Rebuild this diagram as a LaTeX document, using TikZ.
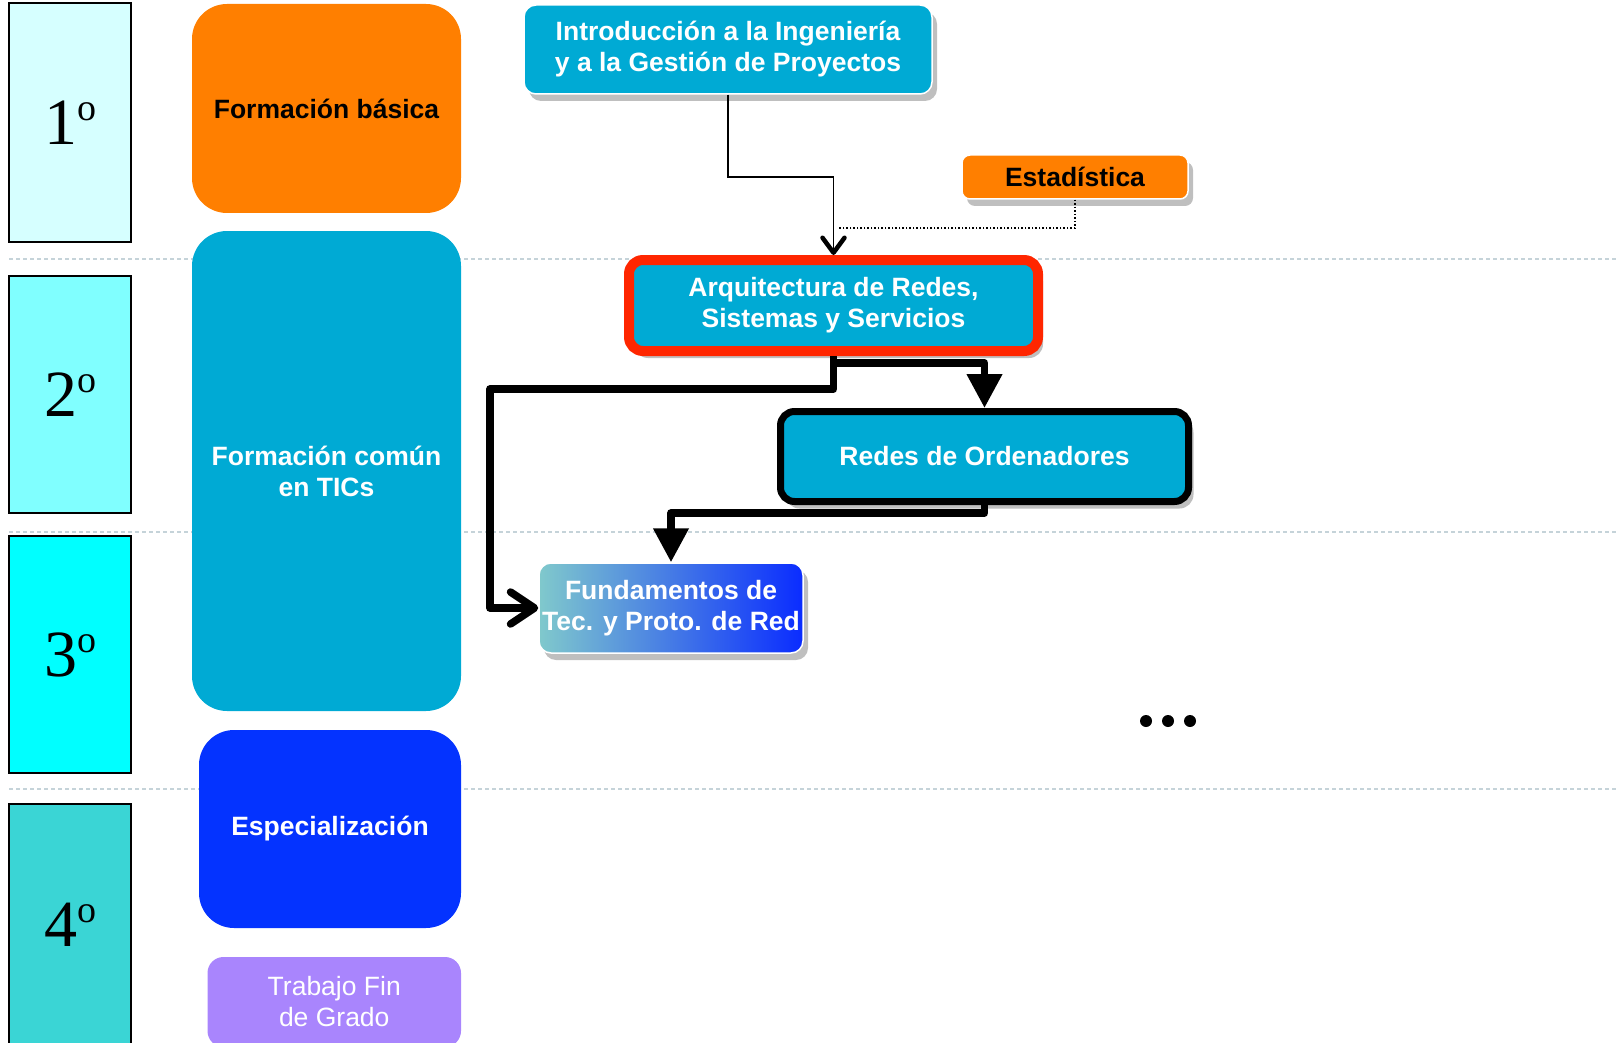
\documentclass[tikz,border=0pt]{standalone}
\usepackage{fontspec}
\setmainfont{Liberation Sans}
\newfontfamily\yearfont{Liberation Serif}
\usetikzlibrary{arrows.meta,shadows}

\definecolor{yearA}{HTML}{D6FFFF}
\definecolor{yearB}{HTML}{80FFFF}
\definecolor{yearC}{HTML}{00FFFF}
\definecolor{yearD}{HTML}{3AD5D5}
\definecolor{basic}{HTML}{FF7F00}
\definecolor{tic}{HTML}{00AAD4}
\definecolor{spec}{HTML}{0433FF}
\definecolor{tfg}{HTML}{A985FD}
\definecolor{hilite}{HTML}{FF2600}
\definecolor{gradL}{HTML}{80C9CC}
\definecolor{gradR}{HTML}{0A2CFF}
\definecolor{sep}{HTML}{C5D3D9}

% ordinal year label: digit with a raised small "o"
\newcommand{\yearlabel}[1]{#1\raisebox{24pt}{\fontsize{38}{38}\selectfont o}}

\tikzset{
  yearbox/.style={draw=black, line width=1.5pt, minimum width=122pt, inner sep=0pt,
    text=black, font=\yearfont\fontsize{66}{66}\selectfont},
  group/.style={rounded corners=35pt, text=white, inner sep=0pt, align=center,
    font=\bfseries\fontsize{26.5}{31}\selectfont},
  course/.style={rounded corners=12pt, fill=tic, draw=white, line width=1.5pt,
    text=white, inner sep=0pt, align=center,
    font=\bfseries\fontsize{26.5}{31}\selectfont,
    drop shadow={shadow xshift=5pt, shadow yshift=-7pt, opacity=0.25, fill=black}},
  divider/.style={sep, line width=1.2pt, dash pattern=on 4pt off 3pt},
  thinlink/.style={line width=1.8pt,
    -{Straight Barb[length=15pt, width=22pt, line width=4.5pt, line cap=round, line join=round]}},
  flow/.style={line width=7.5pt, line join=round},
  bighead/.style={-{Triangle[length=34pt, width=34pt]}},
  barbhead/.style={-{Straight Barb[length=24pt, width=32pt, line cap=round, line join=round]}},
}

\begin{document}
\begin{tikzpicture}[x=1pt, y=-1pt]
  \useasboundingbox (0,0) rectangle (1619,1043);
  \clip (0,0) rectangle (1619,1043);

  % year separators
  \draw[divider] (9,259) -- (1619,259);
  \draw[divider] (9,532) -- (1619,532);
  \draw[divider] (9,789) -- (1619,789);

  % year column
  \node[yearbox, fill=yearA, minimum height=239pt] (y1) at (70,122.5) {\yearlabel{1}};
  \node[yearbox, fill=yearB, minimum height=237pt] (y2) at (70,394.5) {\yearlabel{2}};
  \node[yearbox, fill=yearC, minimum height=237pt] (y3) at (70,654.5) {\yearlabel{3}};
  \node[yearbox, fill=yearD, minimum height=242pt] (y4) at (70,925) {\yearlabel{4}};

  % training blocks
  \node[group, fill=basic, text=black, minimum width=269pt, minimum height=209pt] (fb) at (326.5,108.5) {Formación básica};
  \node[group, fill=tic, minimum width=269pt, minimum height=480pt] (fc) at (326.5,471) {Formación común\\en TICs};
  \node[group, fill=spec, minimum width=262pt, minimum height=198pt] (esp) at (330,829) {Especialización};
  \node[group, fill=tfg, rounded corners=16pt, font=\fontsize{26.5}{31}\selectfont,
        minimum width=253.5pt, minimum height=90pt] (tfg) at (334.25,1002) {Trabajo Fin\\de Grado};

  % courses
  \node[course, minimum width=408pt, minimum height=89pt] (intro) at (728,49.5)
    {Introducción a la Ingeniería\\y a la Gestión de Proyectos};
  \node[course, fill=basic, text=black, rounded corners=8pt, minimum width=226pt, minimum height=44pt] (est) at (1075,177)
    {Estadística};
  \node[course, draw=hilite, line width=10pt, rounded corners=14pt, minimum width=409pt, minimum height=91pt] (arq) at (833.5,305.5)
    {Arquitectura de Redes,\\Sistemas y Servicios};
  \node[course, draw=black, line width=7pt, rounded corners=14pt, minimum width=408pt, minimum height=90pt] (redes) at (984.5,456.5)
    {Redes de Ordenadores};
  \node[course, left color=gradL, right color=gradR, minimum width=264pt, minimum height=90pt] (fund) at (671,608)
    {Fundamentos de\\Tec. y Proto. de Red};

  % prerequisite links
  \coordinate (dj) at (838,228);
  \coordinate (ja) at (490,389);
  \draw[thinlink] (intro.south) |- (arq.north |- est.center) -- (arq.north);
  \draw[line width=1.5pt, dotted] (est.south) |- (dj);
  \draw[flow, barbhead] (arq.south) |- (ja) |- (fund.west);
  \draw[flow, bighead] (arq.south) -- ++(0,7) -| (redes.north);
  \draw[flow, bighead] (redes.south) -- ++(0,8) -| (fund.north);

  % more courses follow
  \fill (1146,721) circle (6pt) (1168,721) circle (6pt) (1190,721) circle (6pt);
\end{tikzpicture}
\end{document}
